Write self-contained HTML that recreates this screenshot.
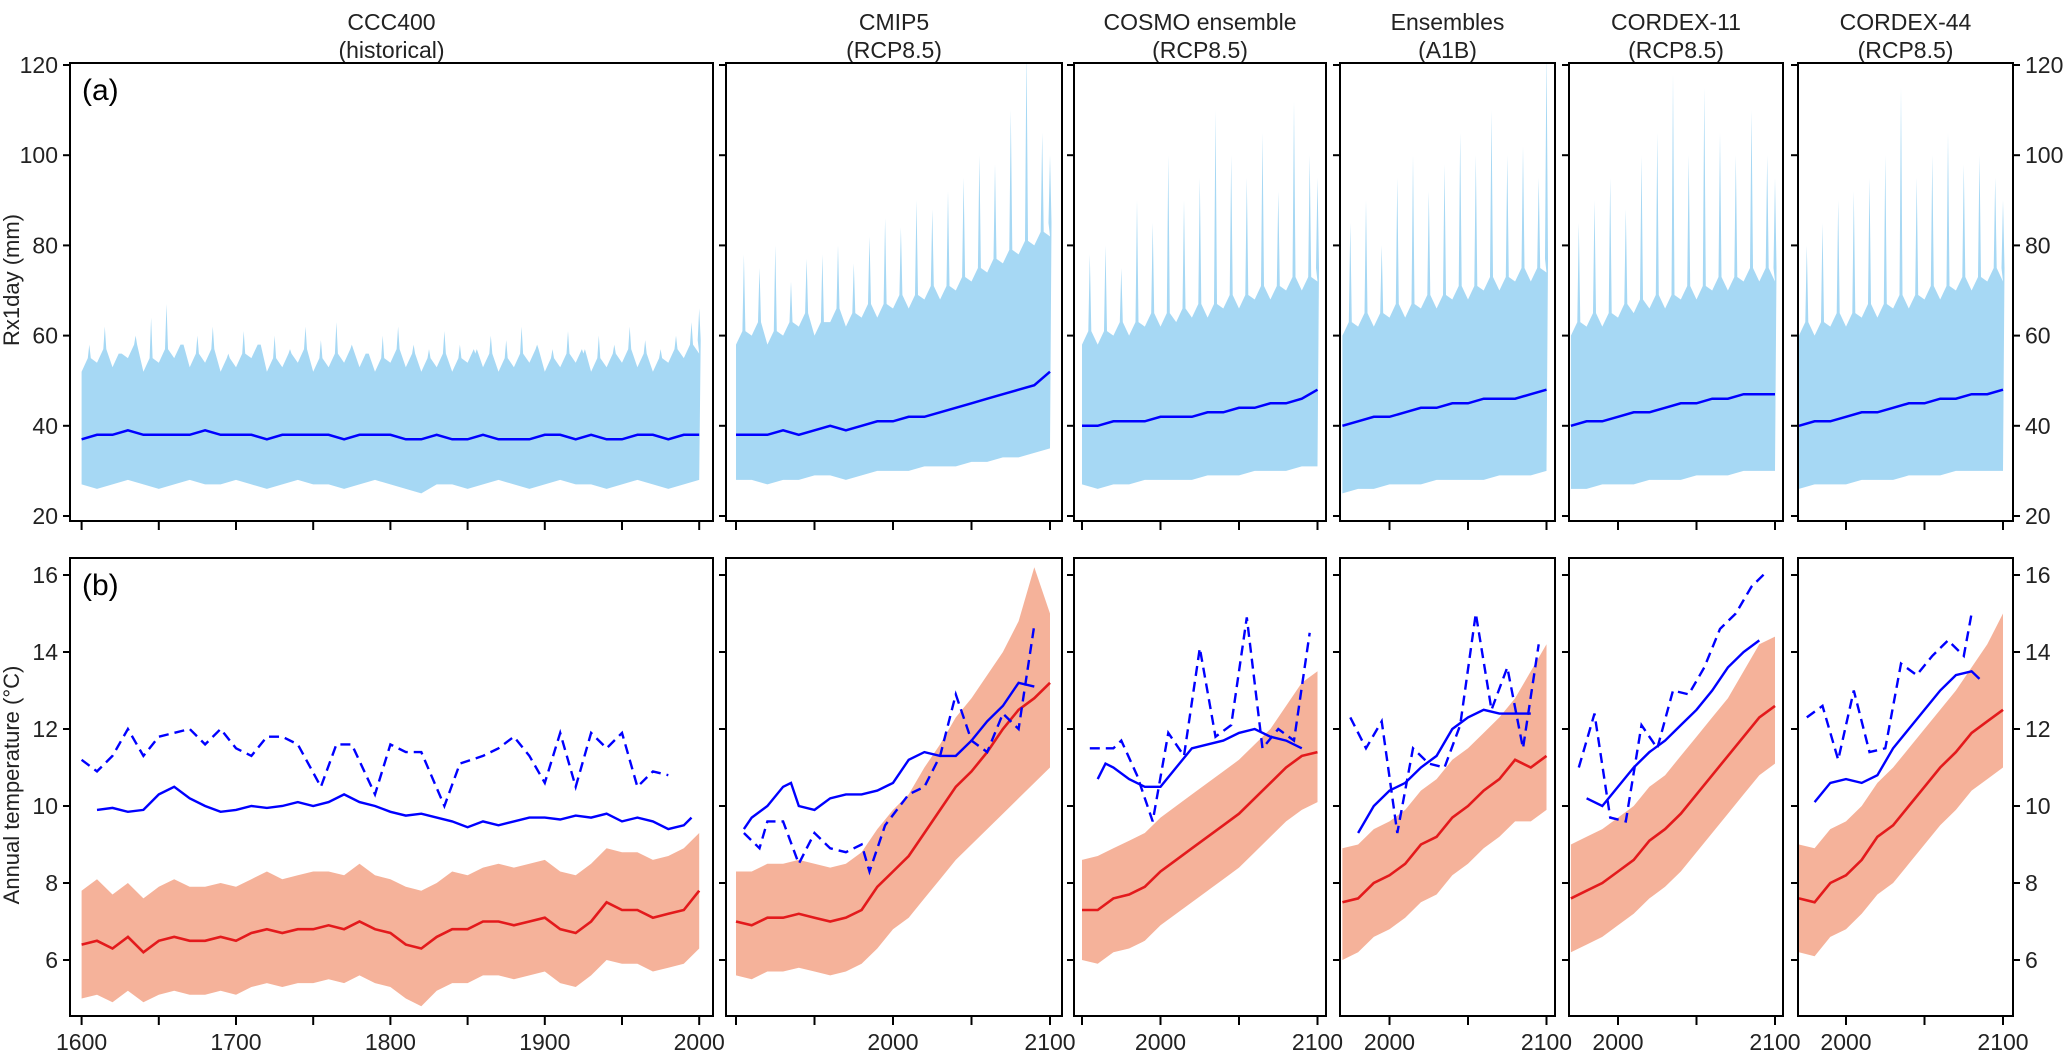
<!DOCTYPE html>
<html><head><meta charset="utf-8"><style>
body{margin:0;background:#fff;}
svg{display:block;font-family:"Liberation Sans",Arial,sans-serif;}
</style></head><body>
<svg id="chart" width="2067" height="1058" viewBox="0 0 2067 1058" xmlns="http://www.w3.org/2000/svg"></svg>
<script>
// ---------- data ----------
const cccYears=[1600,1610,1620,1630,1640,1650,1660,1670,1680,1690,1700,1710,1720,1730,1740,1750,1760,1770,1780,1790,1800,1810,1820,1830,1840,1850,1860,1870,1880,1890,1900,1910,1920,1930,1940,1950,1960,1970,1980,1990,2000];
const cccRxMean=[37,38,38,39,38,38,38,38,39,38,38,38,37,38,38,38,38,37,38,38,38,37,37,38,37,37,38,37,37,37,38,38,37,38,37,37,38,38,37,38,38];
const cccRxLo=[27,26,27,28,27,26,27,28,27,27,28,27,26,27,28,27,27,26,27,28,27,26,25,27,27,26,27,28,27,26,27,28,27,27,26,27,28,27,26,27,28];
const cccRxHi=[52,54,53,55,52,54,55,53,54,52,53,55,52,53,54,52,53,54,53,52,54,53,52,53,52,54,53,52,53,54,52,53,54,52,53,54,53,52,54,55,56];
const cccRxPk=[58,62,56,60,64,67,58,60,62,56,61,58,60,57,62,59,63,58,56,60,62,58,57,61,58,56,60,59,62,58,57,61,56,60,58,62,59,57,60,63,66];
const cccTMean=[6.4,6.5,6.3,6.6,6.2,6.5,6.6,6.5,6.5,6.6,6.5,6.7,6.8,6.7,6.8,6.8,6.9,6.8,7.0,6.8,6.7,6.4,6.3,6.6,6.8,6.8,7.0,7.0,6.9,7.0,7.1,6.8,6.7,7.0,7.5,7.3,7.3,7.1,7.2,7.3,7.8];
const cccTLo=[5.0,5.1,4.9,5.2,4.9,5.1,5.2,5.1,5.1,5.2,5.1,5.3,5.4,5.3,5.4,5.4,5.5,5.4,5.6,5.4,5.3,5.0,4.8,5.2,5.4,5.4,5.6,5.6,5.5,5.6,5.7,5.4,5.3,5.6,6.0,5.9,5.9,5.7,5.8,5.9,6.3];
const cccTHi=[7.8,8.1,7.7,8.0,7.6,7.9,8.1,7.9,7.9,8.0,7.9,8.1,8.3,8.1,8.2,8.3,8.3,8.2,8.5,8.2,8.1,7.9,7.8,8.0,8.3,8.2,8.4,8.5,8.4,8.5,8.6,8.3,8.2,8.5,8.9,8.8,8.8,8.6,8.7,8.9,9.3];
const cccBlueYears=[1610,1620,1630,1640,1650,1660,1670,1680,1690,1700,1710,1720,1730,1740,1750,1760,1770,1780,1790,1800,1810,1820,1830,1840,1850,1860,1870,1880,1890,1900,1910,1920,1930,1940,1950,1960,1970,1980,1990,1995];
const cccBlue=[9.9,9.95,9.85,9.9,10.3,10.5,10.2,10.0,9.85,9.9,10.0,9.95,10.0,10.1,10.0,10.1,10.3,10.1,10.0,9.85,9.75,9.8,9.7,9.6,9.45,9.6,9.5,9.6,9.7,9.7,9.65,9.75,9.7,9.8,9.6,9.7,9.6,9.4,9.5,9.7];
const cccDashYears=[1600,1610,1620,1630,1640,1650,1670,1680,1690,1700,1710,1720,1730,1740,1755,1765,1775,1790,1800,1810,1820,1835,1845,1860,1870,1880,1890,1900,1910,1920,1930,1940,1950,1960,1970,1980];
const cccDash=[11.2,10.9,11.3,12.0,11.3,11.8,12.0,11.6,12.0,11.5,11.3,11.8,11.8,11.6,10.5,11.6,11.6,10.3,11.6,11.4,11.4,10.0,11.1,11.3,11.5,11.8,11.3,10.6,11.9,10.5,11.9,11.5,11.9,10.5,10.9,10.8];

const cmipYears=[1900,1910,1920,1930,1940,1950,1960,1970,1980,1990,2000,2010,2020,2030,2040,2050,2060,2070,2080,2090,2100];
const cmipRxMean=[38,38,38,39,38,39,40,39,40,41,41,42,42,43,44,45,46,47,48,49,52];
const cmipRxLo=[28,28,27,28,28,29,29,28,29,30,30,30,31,31,31,32,32,33,33,34,35];
const cmipRxHi=[58,60,58,60,62,60,63,62,64,64,66,66,68,68,70,72,74,76,78,80,82];
const cmipRxPk=[78,75,80,72,77,78,80,76,82,86,84,90,88,92,95,100,98,110,124,105,100];
const cmipTMean=[7.0,6.9,7.1,7.1,7.2,7.1,7.0,7.1,7.3,7.9,8.3,8.7,9.3,9.9,10.5,10.9,11.4,12.0,12.5,12.8,13.2];
const cmipTLo=[5.6,5.5,5.7,5.7,5.8,5.7,5.6,5.7,5.9,6.3,6.8,7.1,7.6,8.1,8.6,9.0,9.4,9.8,10.2,10.6,11.0];
const cmipTHi=[8.3,8.3,8.5,8.5,8.6,8.5,8.4,8.5,8.8,9.4,9.9,10.3,11.0,11.6,12.3,12.8,13.4,14.0,14.8,16.2,15.0];
const cmipBlueYears=[1905,1910,1920,1930,1935,1940,1950,1960,1970,1980,1990,2000,2010,2020,2030,2040,2050,2060,2070,2080,2090];
const cmipBlue=[9.4,9.7,10.0,10.5,10.6,10.0,9.9,10.2,10.3,10.3,10.4,10.6,11.2,11.4,11.3,11.3,11.7,12.2,12.6,13.2,13.1];
const cmipDashYears=[1905,1915,1920,1930,1940,1950,1960,1970,1980,1985,1995,2010,2020,2030,2040,2050,2060,2070,2080,2090];
const cmipDash=[9.3,8.9,9.6,9.6,8.5,9.3,8.9,8.8,9.0,8.3,9.5,10.3,10.5,11.3,12.9,11.7,11.4,12.4,12.0,14.7];

const cosmoYears=[1950,1960,1970,1980,1990,2000,2010,2020,2030,2040,2050,2060,2070,2080,2090,2100];
const cosmoRxMean=[40,40,41,41,41,42,42,42,43,43,44,44,45,45,46,48];
const cosmoRxLo=[27,26,27,27,28,28,28,28,29,29,29,30,30,30,31,31];
const cosmoRxHi=[58,58,60,60,62,62,63,64,64,66,66,68,68,70,70,72];
const cosmoRxPk=[78,80,75,90,85,100,90,95,110,100,95,105,92,112,100,95];
const cosmoTMean=[7.3,7.3,7.6,7.7,7.9,8.3,8.6,8.9,9.2,9.5,9.8,10.2,10.6,11.0,11.3,11.4];
const cosmoTLo=[6.0,5.9,6.2,6.3,6.5,6.9,7.2,7.5,7.8,8.1,8.4,8.8,9.2,9.6,9.9,10.1];
const cosmoTHi=[8.6,8.7,8.9,9.1,9.3,9.7,10.0,10.3,10.6,10.9,11.2,11.6,12.0,12.6,13.2,13.5];
const cosmoBlueYears=[1960,1965,1970,1980,1990,2000,2010,2020,2030,2040,2050,2060,2070,2080,2090];
const cosmoBlue=[10.7,11.1,11.0,10.7,10.5,10.5,11.0,11.5,11.6,11.7,11.9,12.0,11.8,11.7,11.5];
const cosmoDashYears=[1955,1970,1975,1985,1995,2005,2015,2025,2035,2045,2055,2065,2075,2085,2095];
const cosmoDash=[11.5,11.5,11.7,10.8,9.6,11.9,11.3,14.1,11.8,12.1,14.9,11.5,12.0,11.7,14.5];

const ensYears=[1970,1980,1990,2000,2010,2020,2030,2040,2050,2060,2070,2080,2090,2100];
const ensRxMean=[40,41,42,42,43,44,44,45,45,46,46,46,47,48];
const ensRxLo=[25,26,26,27,27,27,28,28,28,28,29,29,29,30];
const ensRxHi=[60,62,62,64,64,66,66,68,68,70,70,72,72,74];
const ensRxPk=[85,90,80,95,100,92,98,105,100,110,100,102,95,124];
const ensTMean=[7.5,7.6,8.0,8.2,8.5,9.0,9.2,9.7,10.0,10.4,10.7,11.2,11.0,11.3];
const ensTLo=[6.0,6.2,6.6,6.8,7.1,7.5,7.7,8.2,8.5,8.9,9.2,9.6,9.6,9.9];
const ensTHi=[8.9,9.0,9.4,9.6,9.9,10.4,10.7,11.2,11.5,11.9,12.3,12.8,13.5,14.2];
const ensBlueYears=[1980,1990,2000,2010,2020,2030,2040,2050,2060,2070,2080,2090];
const ensBlue=[9.3,10.0,10.4,10.6,11.0,11.3,12.0,12.3,12.5,12.4,12.4,12.4];
const ensDashYears=[1975,1985,1995,2005,2015,2025,2035,2045,2055,2065,2075,2085,2095];
const ensDash=[12.3,11.5,12.2,9.3,11.5,11.1,11.0,12.1,15.0,12.5,13.6,11.5,14.2];

const c11Years=[1970,1980,1990,2000,2010,2020,2030,2040,2050,2060,2070,2080,2090,2100];
const c11RxMean=[40,41,41,42,43,43,44,45,45,46,46,47,47,47];
const c11RxLo=[26,26,27,27,27,28,28,28,29,29,29,30,30,30];
const c11RxHi=[60,62,62,64,65,66,66,68,68,70,70,72,72,72];
const c11RxPk=[85,90,95,88,100,105,118,100,115,105,100,110,100,95];
const c11TMean=[7.6,7.8,8.0,8.3,8.6,9.1,9.4,9.8,10.3,10.8,11.3,11.8,12.3,12.6];
const c11TLo=[6.2,6.4,6.6,6.9,7.2,7.6,7.9,8.3,8.8,9.3,9.8,10.3,10.8,11.1];
const c11THi=[9.0,9.2,9.4,9.7,10.0,10.5,10.8,11.3,11.8,12.3,12.8,13.5,14.2,14.4];
const c11BlueYears=[1980,1990,2000,2010,2020,2030,2040,2050,2060,2070,2080,2090];
const c11Blue=[10.2,10.0,10.5,11.0,11.4,11.7,12.1,12.5,13.0,13.6,14.0,14.3];
const c11DashYears=[1975,1985,1995,2005,2015,2025,2035,2045,2055,2065,2075,2085,2095];
const c11Dash=[11.0,12.4,9.7,9.6,12.1,11.5,13.0,12.9,13.6,14.6,15.0,15.7,16.1];

const c44Years=[1970,1980,1990,2000,2010,2020,2030,2040,2050,2060,2070,2080,2090,2100];
const c44RxMean=[40,41,41,42,43,43,44,45,45,46,46,47,47,48];
const c44RxLo=[26,27,27,27,28,28,28,29,29,29,30,30,30,30];
const c44RxHi=[60,60,62,62,64,64,66,66,68,68,70,70,72,72];
const c44RxPk=[80,85,90,92,95,100,115,95,100,105,98,100,95,90];
const c44TMean=[7.6,7.5,8.0,8.2,8.6,9.2,9.5,10.0,10.5,11.0,11.4,11.9,12.2,12.5];
const c44TLo=[6.2,6.1,6.6,6.8,7.2,7.7,8.0,8.5,9.0,9.5,9.9,10.4,10.7,11.0];
const c44THi=[9.0,8.9,9.4,9.6,10.0,10.6,11.0,11.5,12.0,12.5,13.0,13.6,14.2,15.0];
const c44BlueYears=[1980,1990,2000,2010,2020,2030,2040,2050,2060,2070,2080,2085];
const c44Blue=[10.1,10.6,10.7,10.6,10.8,11.5,12.0,12.5,13.0,13.4,13.5,13.3];
const c44DashYears=[1975,1985,1995,2005,2015,2025,2035,2045,2055,2065,2075,2080];
const c44Dash=[12.3,12.6,11.2,13.0,11.4,11.5,13.7,13.4,13.9,14.3,13.9,15.0];

const rxTicks=[20,40,60,80,100,120];
const tTicks=[6,8,10,12,14,16];
const titles1=["CCC400","CMIP5","COSMO ensemble","Ensembles","CORDEX-11","CORDEX-44"];
const titles2=["(historical)","(RCP8.5)","(RCP8.5)","(A1B)","(RCP8.5)","(RCP8.5)"];

// ---------- layout ----------
const NS="http://www.w3.org/2000/svg";
const svg=document.getElementById('chart');
function el(tag,attrs,parent){const e=document.createElementNS(NS,tag);for(const k in attrs)e.setAttribute(k,attrs[k]);(parent||svg).appendChild(e);return e;}
const TOP={y0:63,y1:521}, BOT={y0:558,y1:1016};
const yRx=v=>516-(v-20)*4.51;
const yT=v=>575-(v-16)*38.5;
const panels=[
 {l:70,r:713,x0:81.6,y0yr:1600,k:1.544,ticks:[1600,1650,1700,1750,1800,1850,1900,1950,2000],labels:[1600,1700,1800,1900,2000],
  years:cccYears,rxm:cccRxMean,rxl:cccRxLo,rxh:cccRxHi,rxp:cccRxPk,tm:cccTMean,tl:cccTLo,th:cccTHi,by:cccBlueYears,b:cccBlue,dy:cccDashYears,d:cccDash},
 {l:726,r:1062,x0:893,y0yr:2000,k:1.57,ticks:[1900,1950,2000,2050,2100],labels:[2000,2100],
  years:cmipYears,rxm:cmipRxMean,rxl:cmipRxLo,rxh:cmipRxHi,rxp:cmipRxPk,tm:cmipTMean,tl:cmipTLo,th:cmipTHi,by:cmipBlueYears,b:cmipBlue,dy:cmipDashYears,d:cmipDash},
 {l:1074,r:1326,x0:1160.5,y0yr:2000,k:1.57,ticks:[1950,2000,2050,2100],labels:[2000,2100],
  years:cosmoYears,rxm:cosmoRxMean,rxl:cosmoRxLo,rxh:cosmoRxHi,rxp:cosmoRxPk,tm:cosmoTMean,tl:cosmoTLo,th:cosmoTHi,by:cosmoBlueYears,b:cosmoBlue,dy:cosmoDashYears,d:cosmoDash},
 {l:1340,r:1555,x0:1389.5,y0yr:2000,k:1.57,ticks:[2000,2050,2100],labels:[2000,2100],
  years:ensYears,rxm:ensRxMean,rxl:ensRxLo,rxh:ensRxHi,rxp:ensRxPk,tm:ensTMean,tl:ensTLo,th:ensTHi,by:ensBlueYears,b:ensBlue,dy:ensDashYears,d:ensDash},
 {l:1569,r:1783,x0:1618,y0yr:2000,k:1.57,ticks:[2000,2050,2100],labels:[2000,2100],
  years:c11Years,rxm:c11RxMean,rxl:c11RxLo,rxh:c11RxHi,rxp:c11RxPk,tm:c11TMean,tl:c11TLo,th:c11THi,by:c11BlueYears,b:c11Blue,dy:c11DashYears,d:c11Dash},
 {l:1798,r:2013,x0:1846,y0yr:2000,k:1.57,ticks:[2000,2050,2100],labels:[2000,2100],
  years:c44Years,rxm:c44RxMean,rxl:c44RxLo,rxh:c44RxHi,rxp:c44RxPk,tm:c44TMean,tl:c44TLo,th:c44THi,by:c44BlueYears,b:c44Blue,dy:c44DashYears,d:c44Dash}
];
const pts=a=>a.map(p=>p[0].toFixed(1)+','+p[1].toFixed(1)).join(' ');

panels.forEach((p,i)=>{
  const X=y=>p.x0+(y-p.y0yr)*p.k;
  const step=p.years[1]-p.years[0];
  const n=p.years.length;
  const t1=el('text',{x:(p.l+p.r)/2,y:30,'text-anchor':'middle','font-size':23,fill:'#222'});
  t1.textContent=titles1[i];
  
  
  const t2=el('text',{x:(p.l+p.r)/2,y:58,'text-anchor':'middle','font-size':23,fill:'#222'});
  t2.textContent=titles2[i];
  
  

  // ---- top panel: Rx1day ----
  const g1=el('g',{'clip-path':'url(#clipT'+i+')'});
  
  
  const cp=el('clipPath',{id:'clipT'+i});el('rect',{x:p.l,y:TOP.y0,width:p.r-p.l,height:TOP.y1-TOP.y0},cp);
  let up=[];
  for(let j=0;j<n;j++){
    const yr=p.years[j];
    up.push([X(yr),yRx(p.rxh[j])]);
    const sy=(j<n-1)?yr+step*0.5:yr;
    up.push([X(sy)-1.5,yRx(p.rxh[j]+3)]);up.push([X(sy),yRx(p.rxp[j])]);up.push([X(sy)+1.5,yRx(p.rxh[j]+3)]);
  }
  const lo=p.years.map((yr,j)=>[X(yr),yRx(p.rxl[j])]).reverse();
  const band=el('polygon',{points:pts(up.concat(lo)),fill:'#a6d8f4'},g1);
  
  
  const ml=el('polyline',{points:pts(p.years.map((yr,j)=>[X(yr),yRx(p.rxm[j])])),fill:'none',stroke:'#0000ff','stroke-width':2.5},g1);
  
  

  // ---- bottom panel: temperature ----
  const g2=el('g',{'clip-path':'url(#clipB'+i+')'});
  
  
  const cp2=el('clipPath',{id:'clipB'+i});el('rect',{x:p.l,y:BOT.y0,width:p.r-p.l,height:BOT.y1-BOT.y0},cp2);
  const tb=p.years.map((yr,j)=>[X(yr),yT(p.th[j])]).concat(p.years.map((yr,j)=>[X(yr),yT(p.tl[j])]).reverse());
  const tband=el('polygon',{points:pts(tb),fill:'#f5b29a'},g2);
  
  
  const rl=el('polyline',{points:pts(p.years.map((yr,j)=>[X(yr),yT(p.tm[j])])),fill:'none',stroke:'#e31a1c','stroke-width':2.6},g2);
  
  
  const bl=el('polyline',{points:pts(p.by.map((yr,j)=>[X(yr),yT(p.b[j])])),fill:'none',stroke:'#0000ff','stroke-width':2.4},g2);
  
  
  const dl=el('polyline',{points:pts(p.dy.map((yr,j)=>[X(yr),yT(p.d[j])])),fill:'none',stroke:'#0000ff','stroke-width':2.4,'stroke-dasharray':'10,6'},g2);
  
  

  [TOP,BOT].forEach((R,ri)=>{
    const fr=el('rect',{x:p.l,y:R.y0,width:p.r-p.l,height:R.y1-R.y0,fill:'none',stroke:'#000','stroke-width':2});
    
    
    p.ticks.forEach(t=>{
      const tk=el('line',{x1:X(t),x2:X(t),y1:R.y1,y2:R.y1+9,stroke:'#000','stroke-width':2});
      
      
    });
    const vals=ri?tTicks:rxTicks, f=ri?yT:yRx;
    vals.forEach(v=>{
      const yt=el('line',{x1:p.l-7,x2:p.l,y1:f(v),y2:f(v),stroke:'#000','stroke-width':2});
      
      
      if(i===0){
        const lb=el('text',{x:p.l-12,y:f(v)+8,'text-anchor':'end','font-size':23,fill:'#222'});
        lb.textContent=v;
        
        
      }
      if(i===5){
        const rt=el('line',{x1:p.r,x2:p.r+7,y1:f(v),y2:f(v),stroke:'#000','stroke-width':2});
        
        
        const lb=el('text',{x:p.r+12,y:f(v)+8,'text-anchor':'start','font-size':23,fill:'#222'});
        lb.textContent=v;
        
        
      }
    });
  });
  p.labels.forEach(t=>{
    const lb=el('text',{x:X(t),y:1050,'text-anchor':'middle','font-size':23,fill:'#222'});
    lb.textContent=t;
    
    
  });
});

const la=el('text',{x:82,y:100,'font-size':30,fill:'#000'});la.textContent='(a)';


const lbb=el('text',{x:82,y:595,'font-size':30,fill:'#000'});lbb.textContent='(b)';


const ya=el('text',{x:0,y:0,'font-size':22,fill:'#222','text-anchor':'middle',transform:'translate(19,280) rotate(-90)'});ya.textContent='Rx1day (mm)';


const yb=el('text',{x:0,y:0,'font-size':22,fill:'#222','text-anchor':'middle',transform:'translate(19,785) rotate(-90)'});yb.textContent='Annual temperature (°C)';


</script>
</body></html>
